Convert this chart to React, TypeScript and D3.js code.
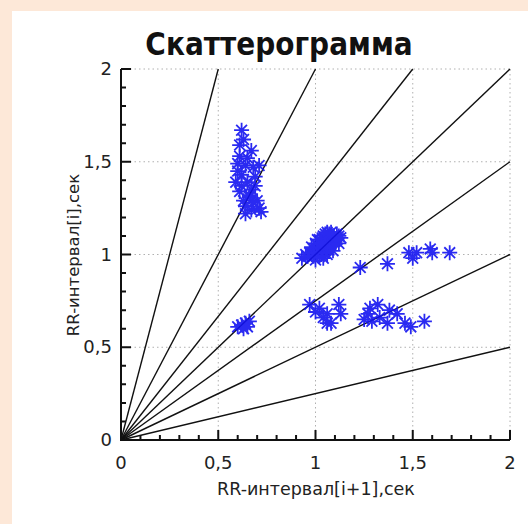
import React from "react";
import * as d3 from "d3";

const title = "Скаттерограмма";
const xTitle = "RR-интервал[i+1],сек";
const yTitle = "RR-интервал[i],сек";
const majorTicks = [0, 0.5, 1, 1.5, 2];
const tickLabels = ["0", "0,5", "1", "1,5", "2"];
const minorTicks = [0.1, 0.2, 0.3, 0.4, 0.6, 0.7, 0.8, 0.9, 1.1, 1.2, 1.3, 1.4, 1.6, 1.7, 1.8, 1.9];
// guide-line slopes through the origin
const slopes = [4, 2, 4 / 3, 1, 0.75, 0.5, 0.25];

// scatter points: x = RR[i+1], y = RR[i]
const ptsX = [
  0.62, 0.61, 0.67, 0.60, 0.64, 0.68, 0.71, 0.62, 0.59, 0.65, 0.61, 0.67, 0.63, 0.70, 0.71, 0.64, 0.67, 0.60, 0.66,
  0.63, 0.65, 0.69, 0.62, 0.66, 0.69, 0.64, 0.68, 0.72, 0.61,
  0.60, 0.62, 0.64, 0.66, 0.63, 0.65,
  0.93, 0.96, 0.98, 1.00, 1.02, 1.04, 1.06, 1.08, 1.10, 1.12, 0.99, 1.01, 1.03, 1.05, 1.07, 1.09, 1.11, 1.00, 1.02, 1.04, 1.06, 1.08, 1.10, 1.03, 1.05, 1.07, 0.97, 1.01, 1.05,
  0.98, 1.00, 1.02, 1.04, 1.06, 1.08, 1.04, 1.06, 1.09, 1.12, 0.95, 0.99, 1.03, 1.07, 1.11, 1.13,
  1.23, 1.37, 1.48, 1.50, 1.52, 1.59, 1.60, 1.69,
  0.97, 1.00, 1.04, 1.06, 1.12, 1.13, 1.06, 1.08, 1.02,
  1.28, 1.32, 1.25, 1.29, 1.33, 1.37, 1.42, 1.46, 1.49, 1.56, 1.38, 1.27,
];
const ptsY = [
  1.67, 1.59, 1.56, 1.49, 1.48, 1.47, 1.48, 1.43, 1.39, 1.39, 1.34, 1.35, 1.29, 1.29, 1.25, 1.26, 1.24, 1.45, 1.31,
  1.62, 1.52, 1.42, 1.37, 1.32, 1.37, 1.22, 1.28, 1.23, 1.53,
  0.61, 0.62, 0.63, 0.64, 0.60, 0.61,
  0.98, 0.99, 1.00, 1.01, 1.02, 1.03, 1.05, 1.06, 1.08, 1.10, 1.03, 1.05, 1.07, 1.08, 1.09, 1.10, 1.11, 0.97, 0.99, 1.01, 1.03, 1.05, 1.07, 1.00, 1.02, 1.04, 1.01, 1.08, 1.11,
  1.04, 1.06, 1.08, 1.10, 1.12, 1.12, 0.98, 1.00, 1.02, 1.06, 1.00, 0.99, 1.06, 1.11, 1.08, 1.09,
  0.93, 0.95, 1.01, 0.98, 1.01, 1.03, 1.01, 1.01,
  0.73, 0.69, 0.66, 0.68, 0.73, 0.68, 0.63, 0.63, 0.71,
  0.71, 0.73, 0.65, 0.64, 0.66, 0.63, 0.68, 0.63, 0.61, 0.64, 0.70, 0.68,
];

const W = 528;
const H = 524;
const font = "'DejaVu Sans', Verdana, sans-serif";

export default function App() {
  const x = d3.scaleLinear().domain([0, 2]).range([121, 510]);
  const y = d3.scaleLinear().domain([0, 2]).range([440, 69]);
  const star = (cx: number, cy: number) => {
    const r = 7.5;
    const d = r * 0.72;
    return `M${cx - r},${cy}L${cx + r},${cy}M${cx},${cy - r}L${cx},${cy + r}M${cx - d},${cy - d}L${cx + d},${cy + d}M${cx - d},${cy + d}L${cx + d},${cy - d}`;
  };
  const line = d3.line<[number, number]>().x((d) => x(d[0])).y((d) => y(d[1]));
  const x0 = x(0);
  const y0 = y(0);
  const tickPath =
    majorTicks.map((t) => `M${x0},${y(t)}h10M${x(t)},${y0}v-10`).join("") +
    minorTicks.map((t) => `M${x0},${y(t)}h5M${x(t)},${y0}v-5`).join("");
  return (
    <svg width={W} height={H} style={{ position: "absolute", left: 0, top: 0 }}>
      <rect x={0} y={0} width={W} height={H} fill="#fde8d8" />
      <rect x={12} y={11} width={W - 12} height={H - 11} fill="#ffffff" />
      <text transform="translate(279,55) scale(1,1.12)" textAnchor="middle" fontFamily={font} fontWeight="bold" fontSize={28} fill="#111">
        {title}
      </text>
      {/* grid */}
      {majorTicks.slice(1).map((t) => (
        <g key={"g" + t}>
          <line x1={x(t)} x2={x(t)} y1={y(0)} y2={y(2)} stroke="#b0b0b0" strokeWidth={1} strokeDasharray="1.5,3" />
          <line x1={x(0)} x2={x(2)} y1={y(t)} y2={y(t)} stroke="#b0b0b0" strokeWidth={1} strokeDasharray="1.5,3" />
        </g>
      ))}
      {/* guide lines */}
      {slopes.map((s, i) => {
        const xe = Math.min(2, 2 / s);
        return (
          <path key={"l" + i} d={line([[0, 0], [xe, xe * s]]) || ""} stroke="#111" strokeWidth={1.4} fill="none" />
        );
      })}
      {/* points */}
      <g stroke="#1414f0" strokeWidth={1.8} fill="none" opacity={0.9}>
        {ptsX.map((px, i) => (
          <path key={"p" + i} d={star(x(px), y(ptsY[i]))} />
        ))}
      </g>
      {/* axes */}
      <path d={`M${x0},${y(2)}V${y0}H${x(2)}`} stroke="#111" strokeWidth={2} fill="none" />
      <path d={tickPath} stroke="#111" strokeWidth={2} fill="none" />
      {majorTicks.map((t, i) => (
        <g key={"tl" + t} fontFamily={font} fontSize={18} fill="#222">
          <text x={x0 - 9} y={y(t) + 6} textAnchor="end">{tickLabels[i]}</text>
          <text x={x(t)} y={y0 + 29} textAnchor="middle">{tickLabels[i]}</text>
        </g>
      ))}
      <text x={316} y={495} textAnchor="middle" fontFamily={font} fontSize={17.5} fill="#222">{xTitle}</text>
      <text transform={`translate(79,255) rotate(-90)`} textAnchor="middle" fontFamily={font} fontSize={16.5} fill="#222">{yTitle}</text>
    </svg>
  );
}
